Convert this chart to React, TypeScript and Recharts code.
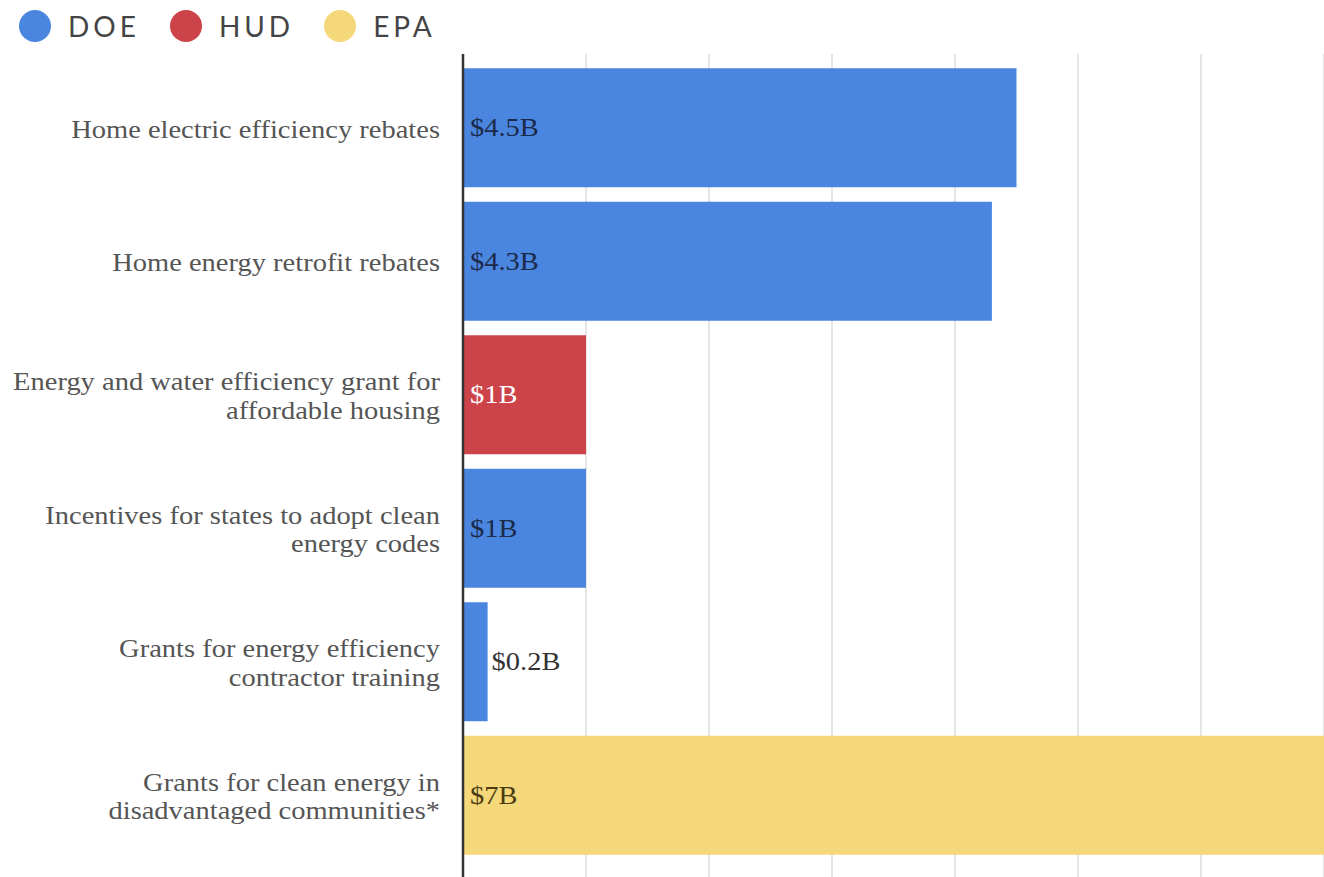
import { Bar, BarChart, CartesianGrid, Cell, LabelList, XAxis, YAxis } from 'recharts';

const categories = [
  'Home electric efficiency rebates',
  'Home energy retrofit rebates',
  'Energy and water efficiency grant for\naffordable housing',
  'Incentives for states to adopt clean\nenergy codes',
  'Grants for energy efficiency\ncontractor training',
  'Grants for clean energy in\ndisadvantaged communities*',
];
const values = [4.5, 4.3, 1, 1, 0.2, 7];
const agencies = ['DOE', 'DOE', 'HUD', 'DOE', 'DOE', 'EPA'];
const valueLabels = ['$4.5B', '$4.3B', '$1B', '$1B', '$0.2B', '$7B'];
const xTicks = [0, 1, 2, 3, 4, 5, 6, 7];

const legendItems = ['DOE', 'HUD', 'EPA'];
const COLORS: Record<string, string> = { DOE: '#4a86e0', HUD: '#cc4449', EPA: '#f5d87a' };
const LABEL_COLORS: Record<string, string> = { DOE: '#1c2a4a', HUD: '#ffffff', EPA: '#4a3c10' };

const data = categories.map((name, i) => ({
  name,
  value: values[i],
  agency: agencies[i],
  label: valueLabels[i],
}));

const SERIF = '"Liberation Serif", "DejaVu Serif", serif';
// the source text is a bit wider than a plain Times face
const STRETCH = 1.14;

function CategoryTick({ x, y, payload }: any) {
  const lines = String(payload.value).split('\n');
  const lh = 29;
  const start = -((lines.length - 1) * lh) / 2 + 1;
  return (
    <text
      transform={`translate(${x},${y}) scale(${STRETCH},1)`}
      textAnchor="end"
      fill="#555"
      fontFamily={SERIF}
      fontSize={25}
    >
      {lines.map((l, i) => (
        <tspan key={i} x={0} y={start + i * lh} dy="0.35em">
          {l}
        </tspan>
      ))}
    </text>
  );
}

function ValueLabel(props: any) {
  const { x, y, width, height, index } = props;
  const d = data[index];
  const outside = d.value < 0.5;
  const tx = outside ? x + width + 4 : x + 7;
  return (
    <text
      transform={`translate(${tx},${y + height / 2}) scale(${STRETCH},1)`}
      dy="0.35em"
      fill={outside ? '#333' : LABEL_COLORS[d.agency]}
      fontFamily={SERIF}
      fontSize={25}
    >
      {d.label}
    </text>
  );
}

function LegendRow() {
  return (
    <div style={{ position: 'absolute', top: 10, left: 19, display: 'flex', alignItems: 'center' }}>
      {legendItems.map((k) => (
        <div key={k} style={{ display: 'flex', alignItems: 'center', marginRight: 30 }}>
          <span
            style={{ width: 32, height: 32, borderRadius: '50%', background: COLORS[k], display: 'inline-block' }}
          />
          <span
            style={{
              marginLeft: 17,
              fontFamily: 'Lato, "Open Sans", sans-serif',
              fontSize: 28,
              letterSpacing: 4,
              color: '#444',
              lineHeight: '32px',
            }}
          >
            {k}
          </span>
        </div>
      ))}
    </div>
  );
}

export default function App() {
  return (
    <div style={{ position: 'absolute', top: 0, left: 0, width: 1324, height: 877, background: '#fff', overflow: 'hidden' }}>
      <LegendRow />
      <BarChart
        width={1324}
        height={877}
        data={data}
        layout="vertical"
        margin={{ top: 54, right: 0, bottom: 0, left: 0 }}
        barCategoryGap="5.4%"
      >
        <CartesianGrid horizontal={false} stroke="#dcdcdc" strokeWidth={1.5} />
        <XAxis type="number" domain={[0, 7]} ticks={xTicks} hide />
        <YAxis
          type="category"
          dataKey="name"
          width={463}
          axisLine={{ stroke: '#333', strokeWidth: 2.5 }}
          tickLine={false}
          tickMargin={17}
          interval={0}
          tick={<CategoryTick />}
          padding={{ top: 7, bottom: 15 }}
        />
        <Bar dataKey="value" isAnimationActive={false}>
          {data.map((d, i) => (
            <Cell key={i} fill={COLORS[d.agency]} />
          ))}
          <LabelList dataKey="label" content={<ValueLabel />} />
        </Bar>
      </BarChart>
    </div>
  );
}
